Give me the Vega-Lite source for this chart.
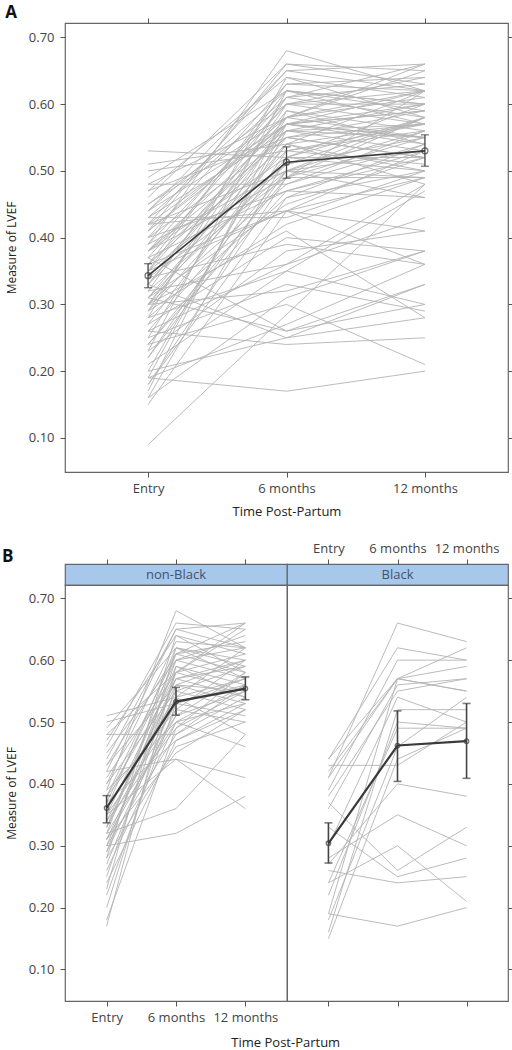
{
  "$schema": "https://vega.github.io/schema/vega-lite/v6.json",
  "background": "white",
  "padding": {"left": 1, "top": 2, "right": 0, "bottom": 0},
  "datasets": {
    "subjects": [
      {"id":"n1","g":"non-Black","Entry":0.51,"6 months":0.54,"12 months":0.62},
      {"id":"n2","g":"non-Black","Entry":0.50,"6 months":0.53,"12 months":0.57},
      {"id":"n3","g":"non-Black","Entry":0.49,"6 months":0.62,"12 months":0.60},
      {"id":"n4","g":"non-Black","Entry":0.48,"6 months":0.48,"12 months":0.54},
      {"id":"n5","g":"non-Black","Entry":0.48,"6 months":0.58,"12 months":0.66},
      {"id":"n6","g":"non-Black","Entry":0.47,"6 months":0.64,"12 months":0.58},
      {"id":"n7","g":"non-Black","Entry":0.45,"6 months":0.60,"12 months":0.62},
      {"id":"n8","g":"non-Black","Entry":0.44,"6 months":0.65,"12 months":0.66},
      {"id":"n9","g":"non-Black","Entry":0.43,"6 months":0.56,"12 months":0.55},
      {"id":"n10","g":"non-Black","Entry":0.43,"6 months":0.61,"12 months":0.58},
      {"id":"n11","g":"non-Black","Entry":0.42,"6 months":0.44,"12 months":0.41},
      {"id":"n12","g":"non-Black","Entry":0.41,"6 months":0.58,"12 months":0.65},
      {"id":"n13","g":"non-Black","Entry":0.40,"6 months":0.55,"12 months":0.52},
      {"id":"n14","g":"non-Black","Entry":0.40,"6 months":0.63,"12 months":0.62},
      {"id":"n15","g":"non-Black","Entry":0.39,"6 months":0.50,"12 months":0.56},
      {"id":"n16","g":"non-Black","Entry":0.39,"6 months":0.68,"12 months":0.62},
      {"id":"n17","g":"non-Black","Entry":0.38,"6 months":0.57,"12 months":0.59},
      {"id":"n18","g":"non-Black","Entry":0.38,"6 months":0.52,"12 months":0.50},
      {"id":"n19","g":"non-Black","Entry":0.37,"6 months":0.60,"12 months":0.64},
      {"id":"n20","g":"non-Black","Entry":0.37,"6 months":0.47,"12 months":0.53},
      {"id":"n21","g":"non-Black","Entry":0.36,"6 months":0.54,"12 months":0.48},
      {"id":"n22","g":"non-Black","Entry":0.36,"6 months":0.62,"12 months":0.57},
      {"id":"n23","g":"non-Black","Entry":0.35,"6 months":0.44,"12 months":0.36},
      {"id":"n24","g":"non-Black","Entry":0.35,"6 months":0.58,"12 months":0.61},
      {"id":"n25","g":"non-Black","Entry":0.35,"6 months":0.51,"12 months":0.55},
      {"id":"n26","g":"non-Black","Entry":0.34,"6 months":0.56,"12 months":0.53},
      {"id":"n27","g":"non-Black","Entry":0.34,"6 months":0.49,"12 months":0.58},
      {"id":"n28","g":"non-Black","Entry":0.33,"6 months":0.59,"12 months":0.56},
      {"id":"n29","g":"non-Black","Entry":0.33,"6 months":0.53,"12 months":0.51},
      {"id":"n30","g":"non-Black","Entry":0.32,"6 months":0.36,"12 months":0.48},
      {"id":"n31","g":"non-Black","Entry":0.32,"6 months":0.61,"12 months":0.63},
      {"id":"n32","g":"non-Black","Entry":0.32,"6 months":0.50,"12 months":0.46},
      {"id":"n33","g":"non-Black","Entry":0.31,"6 months":0.55,"12 months":0.59},
      {"id":"n34","g":"non-Black","Entry":0.31,"6 months":0.45,"12 months":0.52},
      {"id":"n35","g":"non-Black","Entry":0.30,"6 months":0.32,"12 months":0.38},
      {"id":"n36","g":"non-Black","Entry":0.30,"6 months":0.57,"12 months":0.54},
      {"id":"n37","g":"non-Black","Entry":0.30,"6 months":0.48,"12 months":0.56},
      {"id":"n38","g":"non-Black","Entry":0.29,"6 months":0.60,"12 months":0.57},
      {"id":"n39","g":"non-Black","Entry":0.29,"6 months":0.52,"12 months":0.60},
      {"id":"n40","g":"non-Black","Entry":0.28,"6 months":0.46,"12 months":0.50},
      {"id":"n41","g":"non-Black","Entry":0.28,"6 months":0.64,"12 months":0.61},
      {"id":"n42","g":"non-Black","Entry":0.27,"6 months":0.54,"12 months":0.57},
      {"id":"n43","g":"non-Black","Entry":0.26,"6 months":0.50,"12 months":0.53},
      {"id":"n44","g":"non-Black","Entry":0.25,"6 months":0.58,"12 months":0.55},
      {"id":"n45","g":"non-Black","Entry":0.24,"6 months":0.47,"12 months":0.52},
      {"id":"n46","g":"non-Black","Entry":0.23,"6 months":0.62,"12 months":0.59},
      {"id":"n47","g":"non-Black","Entry":0.22,"6 months":0.53,"12 months":0.56},
      {"id":"n48","g":"non-Black","Entry":0.20,"6 months":0.56,"12 months":0.60},
      {"id":"n49","g":"non-Black","Entry":0.18,"6 months":0.49,"12 months":0.55},
      {"id":"n50","g":"non-Black","Entry":0.17,"6 months":0.59,"12 months":0.54},
      {"id":"n51","g":"non-Black","Entry":0.46,"6 months":0.66,"12 months":0.65},
      {"id":"n52","g":"non-Black","Entry":0.42,"6 months":0.65,"12 months":0.62},
      {"id":"n53","g":"non-Black","Entry":0.38,"6 months":0.61,"12 months":0.66},
      {"id":"n54","g":"non-Black","Entry":0.33,"6 months":0.57,"12 months":0.60},
      {"id":"n55","g":"non-Black","Entry":0.31,"6 months":0.51,"12 months":0.58},
      {"id":"b1","g":"Black","Entry":0.41,"6 months":0.66,"12 months":0.63},
      {"id":"b2","g":"Black","Entry":0.44,"6 months":0.62,"12 months":0.60},
      {"id":"b3","g":"Black","Entry":0.42,"6 months":0.57,"12 months":0.59},
      {"id":"b4","g":"Black","Entry":0.39,"6 months":0.60,"12 months":0.60},
      {"id":"b5","g":"Black","Entry":0.44,"6 months":0.57,"12 months":0.55},
      {"id":"b6","g":"Black","Entry":0.38,"6 months":0.55,"12 months":0.57},
      {"id":"b7","g":"Black","Entry":0.30,"6 months":0.54,"12 months":0.50},
      {"id":"b8","g":"Black","Entry":0.16,"6 months":0.52,"12 months":0.52},
      {"id":"b9","g":"Black","Entry":0.22,"6 months":0.50,"12 months":0.49},
      {"id":"b10","g":"Black","Entry":0.18,"6 months":0.46,"12 months":0.54},
      {"id":"b11","g":"Black","Entry":0.15,"6 months":0.44,"12 months":0.49},
      {"id":"b12","g":"Black","Entry":0.24,"6 months":0.49,"12 months":0.49},
      {"id":"b13","g":"Black","Entry":0.19,"6 months":0.57,"12 months":0.55},
      {"id":"b14","g":"Black","Entry":0.43,"6 months":0.43,"12 months":0.50},
      {"id":"b15","g":"Black","Entry":0.27,"6 months":0.40,"12 months":0.38},
      {"id":"b16","g":"Black","Entry":0.37,"6 months":0.26,"12 months":0.33},
      {"id":"b17","g":"Black","Entry":0.28,"6 months":0.35,"12 months":0.30},
      {"id":"b18","g":"Black","Entry":0.24,"6 months":0.30,"12 months":0.21},
      {"id":"b19","g":"Black","Entry":0.33,"6 months":0.25,"12 months":0.28},
      {"id":"b20","g":"Black","Entry":0.26,"6 months":0.24,"12 months":0.25},
      {"id":"b21","g":"Black","Entry":0.19,"6 months":0.17,"12 months":0.20},
      {"id":"b22","g":"Black","Entry":0.36,"6 months":0.56,"12 months":0.57},
      {"id":"b23","g":"Black","Entry":0.41,"6 months":0.57,"12 months":0.62},
      {"id":"x1","g":"unknown","Entry":0.09,"6 months":null,"12 months":0.48},
      {"id":"x2","g":"unknown","Entry":0.53,"6 months":0.52,"12 months":0.58},
      {"id":"x3","g":"unknown","Entry":0.20,"6 months":0.25,"12 months":0.33},
      {"id":"x4","g":"unknown","Entry":0.23,"6 months":0.38,"12 months":0.41},
      {"id":"x5","g":"unknown","Entry":0.26,"6 months":0.36,"12 months":0.43},
      {"id":"x6","g":"unknown","Entry":0.31,"6 months":0.26,"12 months":0.30},
      {"id":"x7","g":"unknown","Entry":0.34,"6 months":0.39,"12 months":0.36},
      {"id":"x8","g":"unknown","Entry":0.16,"6 months":0.31,"12 months":0.38},
      {"id":"x9","g":"unknown","Entry":0.40,"6 months":0.47,"12 months":0.46},
      {"id":"x10","g":"unknown","Entry":0.45,"6 months":0.58,"12 months":0.62},
      {"id":"x11","g":"unknown","Entry":0.21,"6 months":0.35,"12 months":0.47},
      {"id":"x12","g":"unknown","Entry":0.29,"6 months":0.42,"12 months":0.49},
      {"id":"x13","g":"unknown","Entry":0.47,"6 months":0.55,"12 months":0.52},
      {"id":"x14","g":"unknown","Entry":0.35,"6 months":0.63,"12 months":0.64},
      {"id":"x15","g":"unknown","Entry":0.25,"6 months":0.33,"12 months":0.29},
      {"id":"x16","g":"unknown","Entry":0.36,"6 months":0.44,"12 months":0.53},
      {"id":"x17","g":"unknown","Entry":0.42,"6 months":null,"12 months":0.58},
      {"id":"x18","g":"unknown","Entry":0.30,"6 months":0.41,"12 months":0.28},
      {"id":"x19","g":"unknown","Entry":0.19,"6 months":0.27,"12 months":0.36},
      {"id":"x20","g":"unknown","Entry":0.38,"6 months":0.49,"12 months":0.62}
    ],
    "means": [
      {"panel":"A","time":"Entry","mean":0.343,"lo":0.325,"hi":0.361},
      {"panel":"A","time":"6 months","mean":0.513,"lo":0.489,"hi":0.536},
      {"panel":"A","time":"12 months","mean":0.530,"lo":0.507,"hi":0.554},
      {"panel":"non-Black","time":"Entry","mean":0.361,"lo":0.337,"hi":0.381},
      {"panel":"non-Black","time":"6 months","mean":0.533,"lo":0.511,"hi":0.556},
      {"panel":"non-Black","time":"12 months","mean":0.554,"lo":0.536,"hi":0.573},
      {"panel":"Black","time":"Entry","mean":0.304,"lo":0.272,"hi":0.337},
      {"panel":"Black","time":"6 months","mean":0.462,"lo":0.404,"hi":0.518},
      {"panel":"Black","time":"12 months","mean":0.469,"lo":0.409,"hi":0.530}
    ]
  },
  "spacing": 22,
  "vconcat": [
    {
      "width": 443,
      "height": 449,
      "title": {"text": "A", "anchor": "start", "frame": "bounds", "fontSize": 17, "fontWeight": "bold", "font": "Open Sans", "color": "#111", "offset": -4},
      "resolve": {"axis": {"x": "independent", "y": "independent"}},
      "layer": [
        {
          "data": {"name": "subjects"},
          "transform": [
            {"fold": ["Entry", "6 months", "12 months"], "as": ["time", "lvef"]},
            {"filter": {"field": "lvef", "valid": true}}
          ],
          "mark": {"type": "line", "color": "#b3b3b3", "strokeWidth": 0.9},
          "encoding": {
            "x": {"field": "time", "type": "ordinal", "scale": {"type": "point", "domain": ["Entry", "6 months", "12 months"], "padding": 0.6}, "axis": {"orient": "bottom", "title": "Time Post-Partum", "labelPadding": 5, "titlePadding": 10}},
            "y": {"field": "lvef", "type": "quantitative", "scale": {"domain": [0.049, 0.7215], "nice": false, "zero": false}, "axis": {"orient": "left", "values": [0.1, 0.2, 0.3, 0.4, 0.5, 0.6, 0.7], "format": ".2f", "title": "Measure of LVEF", "labelPadding": 6, "titlePadding": 10}},
            "detail": {"field": "id"},
            "order": {"value": null}
          }
        },
        {
          "data": {"name": "means"},
          "transform": [{"filter": "datum.panel === 'A'"}],
          "mark": {"type": "rule", "color": "#444", "strokeWidth": 1.3},
          "encoding": {
            "x": {"field": "time", "type": "ordinal", "axis": {"orient": "top", "labels": false, "title": null}},
            "y": {"field": "lo", "type": "quantitative", "axis": {"orient": "right", "labels": false, "title": null, "values": [0.1, 0.2, 0.3, 0.4, 0.5, 0.6, 0.7]}},
            "y2": {"field": "hi"}
          }
        },
        {
          "data": {"name": "means"},
          "transform": [{"filter": "datum.panel === 'A'"}],
          "mark": {"type": "tick", "orient": "horizontal", "color": "#444", "size": 8, "thickness": 1.3},
          "encoding": {
            "x": {"field": "time", "type": "ordinal", "axis": null},
            "y": {"field": "lo", "type": "quantitative", "axis": null}
          }
        },
        {
          "data": {"name": "means"},
          "transform": [{"filter": "datum.panel === 'A'"}],
          "mark": {"type": "tick", "orient": "horizontal", "color": "#444", "size": 8, "thickness": 1.3},
          "encoding": {
            "x": {"field": "time", "type": "ordinal", "axis": null},
            "y": {"field": "hi", "type": "quantitative", "axis": null}
          }
        },
        {
          "data": {"name": "means"},
          "transform": [{"filter": "datum.panel === 'A'"}],
          "mark": {"type": "line", "color": "#3a3a3a", "strokeWidth": 1.6},
          "encoding": {
            "x": {"field": "time", "type": "ordinal", "axis": null},
            "y": {"field": "mean", "type": "quantitative", "axis": null},
            "order": {"value": null}
          }
        },
        {
          "data": {"name": "means"},
          "transform": [{"filter": "datum.panel === 'A'"}],
          "mark": {"type": "point", "shape": "circle", "filled": false, "size": 36, "color": "#3a3a3a", "strokeWidth": 1.3},
          "encoding": {
            "x": {"field": "time", "type": "ordinal", "axis": null},
            "y": {"field": "mean", "type": "quantitative", "axis": null}
          }
        }
      ]
    },
    {
      "columns": 2,
      "bounds": "flush",
      "spacing": {"row": 0, "column": 0},
      "title": {"text": "Time Post-Partum", "orient": "bottom", "anchor": "middle", "fontSize": 13, "fontWeight": "normal", "font": "Open Sans", "color": "#222", "offset": 12, "dx": 28},
      "concat": [
        {
          "width": 222,
          "height": 21,
          "view": {"fill": "#a7c7eb", "stroke": "#666", "strokeWidth": 1.2},
          "title": {"text": "B", "anchor": "start", "frame": "group", "dx": -63, "fontSize": 17, "fontWeight": "bold", "font": "Open Sans", "color": "#111", "offset": -7},
          "data": {"values": [{"label": "non-Black"}]},
          "mark": {"type": "text", "color": "#44526a", "fontSize": 13, "font": "Open Sans"},
          "encoding": {
            "x": {"datum": "6 months", "type": "ordinal", "scale": {"type": "point", "domain": ["Entry", "6 months", "12 months"], "padding": 0.6}, "axis": {"orient": "top", "labels": false, "title": null}},
            "text": {"field": "label"}
          }
        },
        {
          "width": 221,
          "height": 21,
          "view": {"fill": "#a7c7eb", "stroke": "#666", "strokeWidth": 1.2},
          "data": {"values": [{"label": "Black"}]},
          "mark": {"type": "text", "color": "#44526a", "fontSize": 13, "font": "Open Sans"},
          "encoding": {
            "x": {"datum": "6 months", "type": "ordinal", "scale": {"type": "point", "domain": ["Entry", "6 months", "12 months"], "padding": 0.6}, "axis": {"orient": "top", "title": null, "labelPadding": 4}},
            "text": {"field": "label"}
          }
        },
        {
          "width": 222,
          "height": 416,
          "resolve": {"axis": {"x": "independent", "y": "independent"}},
          "layer": [
            {
              "data": {"name": "subjects"},
              "transform": [
                {"filter": "datum.g === 'non-Black'"},
                {"fold": ["Entry", "6 months", "12 months"], "as": ["time", "lvef"]},
                {"filter": {"field": "lvef", "valid": true}}
              ],
              "mark": {"type": "line", "color": "#b3b3b3", "strokeWidth": 0.9},
              "encoding": {
                "x": {"field": "time", "type": "ordinal", "scale": {"type": "point", "domain": ["Entry", "6 months", "12 months"], "padding": 0.6}, "axis": {"orient": "bottom", "title": null, "labelPadding": 5}},
                "y": {"field": "lvef", "type": "quantitative", "scale": {"domain": [0.049, 0.7215], "nice": false, "zero": false}, "axis": {"orient": "left", "values": [0.1, 0.2, 0.3, 0.4, 0.5, 0.6, 0.7], "format": ".2f", "title": "Measure of LVEF", "labelPadding": 6, "titlePadding": 10}},
                "detail": {"field": "id"},
                "order": {"value": null}
              }
            },
            {
              "data": {"name": "means"},
              "transform": [{"filter": "datum.panel === 'non-Black'"}],
              "mark": {"type": "rule", "color": "#444", "strokeWidth": 1.6},
              "encoding": {
                "x": {"field": "time", "type": "ordinal", "axis": null},
                "y": {"field": "lo", "type": "quantitative", "axis": null},
                "y2": {"field": "hi"}
              }
            },
            {
              "data": {"name": "means"},
              "transform": [{"filter": "datum.panel === 'non-Black'"}],
              "mark": {"type": "tick", "orient": "horizontal", "color": "#444", "size": 8, "thickness": 1.6},
              "encoding": {
                "x": {"field": "time", "type": "ordinal", "axis": null},
                "y": {"field": "lo", "type": "quantitative", "axis": null}
              }
            },
            {
              "data": {"name": "means"},
              "transform": [{"filter": "datum.panel === 'non-Black'"}],
              "mark": {"type": "tick", "orient": "horizontal", "color": "#444", "size": 8, "thickness": 1.6},
              "encoding": {
                "x": {"field": "time", "type": "ordinal", "axis": null},
                "y": {"field": "hi", "type": "quantitative", "axis": null}
              }
            },
            {
              "data": {"name": "means"},
              "transform": [{"filter": "datum.panel === 'non-Black'"}],
              "mark": {"type": "line", "color": "#3a3a3a", "strokeWidth": 2.2},
              "encoding": {
                "x": {"field": "time", "type": "ordinal", "axis": null},
                "y": {"field": "mean", "type": "quantitative", "axis": null},
                "order": {"value": null}
              }
            },
            {
              "data": {"name": "means"},
              "transform": [{"filter": "datum.panel === 'non-Black'"}],
              "mark": {"type": "point", "shape": "circle", "filled": false, "size": 20, "color": "#3a3a3a", "strokeWidth": 1.3},
              "encoding": {
                "x": {"field": "time", "type": "ordinal", "axis": null},
                "y": {"field": "mean", "type": "quantitative", "axis": null}
              }
            }
          ]
        },
        {
          "width": 221,
          "height": 416,
          "resolve": {"axis": {"x": "independent", "y": "independent"}},
          "layer": [
            {
              "data": {"name": "subjects"},
              "transform": [
                {"filter": "datum.g === 'Black'"},
                {"fold": ["Entry", "6 months", "12 months"], "as": ["time", "lvef"]},
                {"filter": {"field": "lvef", "valid": true}}
              ],
              "mark": {"type": "line", "color": "#b3b3b3", "strokeWidth": 0.9},
              "encoding": {
                "x": {"field": "time", "type": "ordinal", "scale": {"type": "point", "domain": ["Entry", "6 months", "12 months"], "padding": 0.6}, "axis": {"orient": "bottom", "title": null, "labels": false}},
                "y": {"field": "lvef", "type": "quantitative", "scale": {"domain": [0.049, 0.7215], "nice": false, "zero": false}, "axis": {"orient": "right", "values": [0.1, 0.2, 0.3, 0.4, 0.5, 0.6, 0.7], "labels": false, "title": null}},
                "detail": {"field": "id"},
                "order": {"value": null}
              }
            },
            {
              "data": {"name": "means"},
              "transform": [{"filter": "datum.panel === 'Black'"}],
              "mark": {"type": "rule", "color": "#444", "strokeWidth": 1.6},
              "encoding": {
                "x": {"field": "time", "type": "ordinal", "axis": null},
                "y": {"field": "lo", "type": "quantitative", "axis": null},
                "y2": {"field": "hi"}
              }
            },
            {
              "data": {"name": "means"},
              "transform": [{"filter": "datum.panel === 'Black'"}],
              "mark": {"type": "tick", "orient": "horizontal", "color": "#444", "size": 8, "thickness": 1.6},
              "encoding": {
                "x": {"field": "time", "type": "ordinal", "axis": null},
                "y": {"field": "lo", "type": "quantitative", "axis": null}
              }
            },
            {
              "data": {"name": "means"},
              "transform": [{"filter": "datum.panel === 'Black'"}],
              "mark": {"type": "tick", "orient": "horizontal", "color": "#444", "size": 8, "thickness": 1.6},
              "encoding": {
                "x": {"field": "time", "type": "ordinal", "axis": null},
                "y": {"field": "hi", "type": "quantitative", "axis": null}
              }
            },
            {
              "data": {"name": "means"},
              "transform": [{"filter": "datum.panel === 'Black'"}],
              "mark": {"type": "line", "color": "#3a3a3a", "strokeWidth": 2.2},
              "encoding": {
                "x": {"field": "time", "type": "ordinal", "axis": null},
                "y": {"field": "mean", "type": "quantitative", "axis": null},
                "order": {"value": null}
              }
            },
            {
              "data": {"name": "means"},
              "transform": [{"filter": "datum.panel === 'Black'"}],
              "mark": {"type": "point", "shape": "circle", "filled": false, "size": 20, "color": "#3a3a3a", "strokeWidth": 1.3},
              "encoding": {
                "x": {"field": "time", "type": "ordinal", "axis": null},
                "y": {"field": "mean", "type": "quantitative", "axis": null}
              }
            }
          ]
        }
      ]
    }
  ],
  "config": {
    "font": "Open Sans",
    "view": {"stroke": "#666", "strokeWidth": 1.2},
    "axis": {
      "domain": false,
      "grid": false,
      "tickColor": "#555",
      "tickSize": 5,
      "tickWidth": 1,
      "labelColor": "#444",
      "labelFont": "Open Sans",
      "labelFontSize": 13,
      "labelPadding": 4,
      "titleFont": "Open Sans",
      "titleFontWeight": "normal",
      "titleColor": "#222",
      "titleFontSize": 12
    },
    "axisX": {"labelAngle": 0, "titleFontSize": 13},
    "title": {"font": "Open Sans"}
  }
}
